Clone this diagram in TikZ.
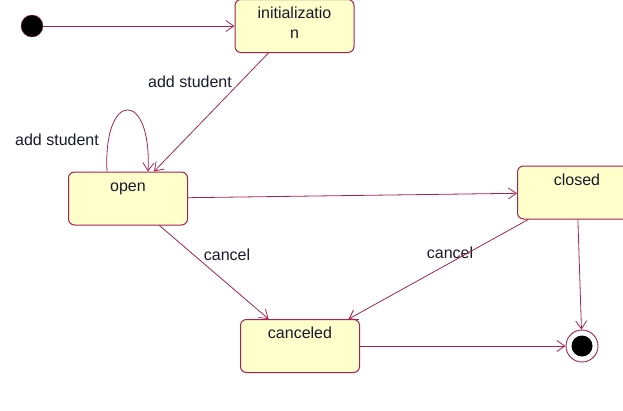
\documentclass[tikz,border=0pt]{standalone}
\usepackage{fontspec}
\setmainfont{Liberation Sans}
\usetikzlibrary{arrows.meta}
\definecolor{umlred}{RGB}{165,35,80}
\definecolor{umlfill}{RGB}{255,255,204}
\definecolor{umltext}{RGB}{25,25,45}
\tikzset{
    statebox/.style={rectangle, rounded corners=6pt, draw=umlred, fill=umlfill, line width=1pt,
        minimum width=119pt, align=center, inner sep=3pt, text height=16pt, text depth=31pt,
        text=umltext},
    trans/.style={draw=umlred, line width=0.8pt, -{Straight Barb[length=8pt,width=11pt,line width=0.8pt]}},
    lbl/.style={text=umltext, inner sep=1pt}
}
\begin{document}
\begin{tikzpicture}[x=1pt, y=-1pt, font=\fontsize{16}{20}\selectfont]
                    \useasboundingbox (0,0) rectangle (623,410);
                    % Nodes
                    \node[circle, fill=black, draw=umlred, minimum size=22pt, inner sep=0pt] (start) at (32,26) {};
                    \node[statebox, text height=36pt, text depth=11pt] (init) at (294.5,26) {initializatio\\n};
                    \node[statebox] (open) at (128,198.5) {open};
                    \node[statebox] (closed) at (577,192.5) {closed};
                    \node[statebox] (canceled) at (300,346) {canceled};
                    \node[circle, draw=umlred, fill=white, line width=0.9pt, minimum size=32pt, inner sep=0pt,
                        path picture={\fill[black] (path picture bounding box.center) circle (10.5pt);}] (final) at (582,346) {};
                    % Labels
                    \node[lbl] (addA) at (190,82) {add student};
                    \node[lbl] (addB) at (57,140) {add student};
                    \node[lbl] (cancelA) at (227,255) {cancel};
                    \node[lbl] (cancelB) at (450,253) {cancel};
                    % Edges
                    \draw[trans] (start) -- (init);
                    \draw[trans] (init) -- (open);
                    \draw[trans] ([xshift=-21pt]open.north) .. controls ([xshift=-25pt,yshift=82pt]open.north) and ([xshift=24pt,yshift=82pt]open.north) .. ([xshift=20pt]open.north);
                    \draw[trans] (open) -- (closed);
                    \draw[trans] (open) -- (canceled);
                    \draw[trans] (closed) -- (canceled);
                    \draw[trans] (closed) -- (final);
                    \draw[trans] (canceled) -- (final);
                \end{tikzpicture}
\end{document}
